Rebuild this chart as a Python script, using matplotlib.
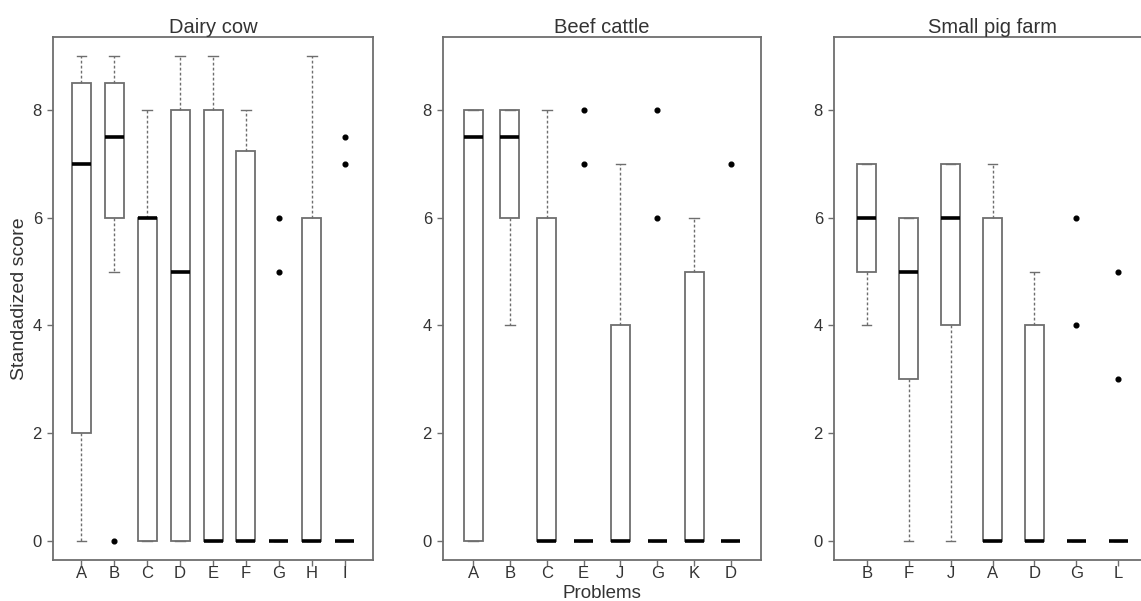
import matplotlib
matplotlib.use("Agg")
import matplotlib.pyplot as plt

plt.rcParams['font.family'] = ['Liberation Sans', 'DejaVu Sans']

# ---------------- data ----------------
titles = ["Dairy cow", "Beef cattle", "Small pig farm"]

dairy_labels = ["A", "B", "C", "D", "E", "F", "G", "H", "I"]
dairy_whislo = [0, 5, 0, 0, 0, 0, 0, 0, 0]
dairy_q1 = [2, 6, 0, 0, 0, 0, 0, 0, 0]
dairy_med = [7, 7.5, 6, 5, 0, 0, 0, 0, 0]
dairy_q3 = [8.5, 8.5, 6, 8, 8, 7.25, 0, 6, 0]
dairy_whishi = [9, 9, 8, 9, 9, 8, 0, 9, 0]
dairy_fliers = [[], [0], [], [], [], [], [5, 6], [], [7, 7.5]]

beef_labels = ["A", "B", "C", "E", "J", "G", "K", "D"]
beef_whislo = [0, 4, 0, 0, 0, 0, 0, 0]
beef_q1 = [0, 6, 0, 0, 0, 0, 0, 0]
beef_med = [7.5, 7.5, 0, 0, 0, 0, 0, 0]
beef_q3 = [8, 8, 6, 0, 4, 0, 5, 0]
beef_whishi = [8, 8, 8, 0, 7, 0, 6, 0]
beef_fliers = [[], [], [], [7, 8], [], [6, 8], [], [7]]

pig_labels = ["B", "F", "J", "A", "D", "G", "L"]
pig_whislo = [4, 0, 0, 0, 0, 0, 0]
pig_q1 = [5, 3, 4, 0, 0, 0, 0]
pig_med = [6, 5, 6, 0, 0, 0, 0]
pig_q3 = [7, 6, 7, 6, 4, 0, 0]
pig_whishi = [7, 6, 7, 7, 5, 0, 0]
pig_fliers = [[], [], [], [], [], [4, 6], [3, 5]]

yticks = [0, 2, 4, 6, 8]

panels = [
    (dairy_labels, dairy_whislo, dairy_q1, dairy_med, dairy_q3, dairy_whishi, dairy_fliers),
    (beef_labels, beef_whislo, beef_q1, beef_med, beef_q3, beef_whishi, beef_fliers),
    (pig_labels, pig_whislo, pig_q1, pig_med, pig_q3, pig_whishi, pig_fliers),
]

# ---------------- layout ----------------
W, H = 1141, 601
fig = plt.figure(figsize=(W / 100, H / 100), dpi=100)
fig.patch.set_facecolor("white")

ax_px = [(53, 320), (443, 318), (834, 317)]
top_px, bot_px = 37, 560

edge = "#6e6e6e"
txt = "#333333"

for i, (labels, wlo, q1, med, q3, whi, fl) in enumerate(panels):
    left, width = ax_px[i]
    ax = fig.add_axes([left / W, 1 - bot_px / H, width / W, (bot_px - top_px) / H])
    n = len(labels)
    stats = []
    for j in range(n):
        stats.append(dict(label=labels[j], whislo=wlo[j], q1=q1[j], med=med[j],
                          q3=q3[j], whishi=whi[j], fliers=fl[j]))
    pos = list(range(1, n + 1))
    bw = 19.0 / (width / (n + 0.08 * n))  # box ~19 px wide
    ax.bxp(stats, positions=pos, widths=bw, capwidths=bw * 0.5,
           showfliers=True, patch_artist=True,
           boxprops=dict(facecolor="white", edgecolor=edge, linewidth=1.3),
           medianprops=dict(color="black", linewidth=2.6, solid_capstyle="butt"),
           whiskerprops=dict(color=edge, linewidth=1.0, linestyle=(0, (2.0, 1.6))),
           capprops=dict(color=edge, linewidth=1.0),
           flierprops=dict(marker="o", markerfacecolor="black", markeredgecolor="black",
                           markersize=3.4, linestyle="none"))
    ext = 0.04 * n
    ax.set_xlim(0.5 - ext, n + 0.5 + ext)
    ax.set_ylim(-0.36, 9.36)
    ax.set_xticks(pos)
    ax.set_xticklabels(labels)
    ax.set_yticks(yticks)
    ax.set_yticklabels([str(v) for v in yticks])
    for s in ax.spines.values():
        s.set_color(edge)
        s.set_linewidth(1.3)
    ax.tick_params(axis="both", direction="out", length=4, width=1, color=edge,
                   labelcolor=txt, labelsize=12)
    ax.tick_params(axis="x", pad=0.5)
    ax.tick_params(axis="y", pad=4)
    ax.set_title(titles[i], fontsize=14.5, color=txt, pad=2)
    if i == 0:
        ax.set_ylabel("Standadized score", fontsize=14, color=txt)
        ax.yaxis.set_label_coords((28 - 53) / 320, 0.5)

fig.text(602 / W, 3.5 / H, "Problems", ha="center", va="baseline", fontsize=13.5, color=txt)

fig.savefig("out.png", dpi=100, facecolor="white")
